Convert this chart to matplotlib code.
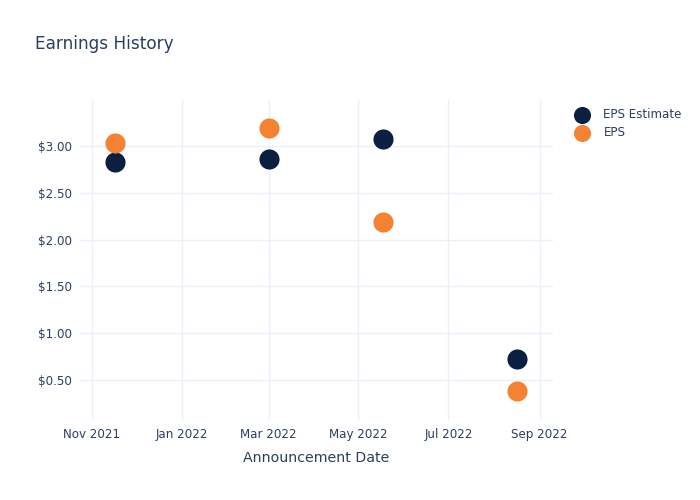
import matplotlib
matplotlib.use("Agg")
import matplotlib.pyplot as plt
from matplotlib.ticker import FuncFormatter
import datetime as dt

dates = ["2021-11-17", "2022-03-01", "2022-05-17 12:00", "2022-08-16 12:00"]
eps_estimate = [2.83, 2.86, 3.07, 0.72]
eps_actual = [3.03, 3.19, 2.19, 0.38]
tick_dates = ["2021-11-01", "2022-01-01", "2022-03-01", "2022-05-01", "2022-07-01", "2022-09-01"]
tick_labels = ["Nov 2021", "Jan 2022", "Mar 2022", "May 2022", "Jul 2022", "Sep 2022"]
y_ticks = [0.5, 1.0, 1.5, 2.0, 2.5, 3.0]

def to_dt(s):
    fmt = "%Y-%m-%d %H:%M" if " " in s else "%Y-%m-%d"
    return dt.datetime.strptime(s, fmt)

xd = [to_dt(d) for d in dates]

text_color = "#2a3f5f"
grid_color = "#ebf0f8"
navy = "#0b1f41"
orange = "#f58233"

fig = plt.figure(figsize=(7, 5), dpi=100)
ax = fig.add_axes([80/700, 80/500, 473/700, 320/500])

ax.scatter(xd, eps_estimate, s=210, color=navy, label="EPS Estimate", zorder=3, linewidths=0)
ax.scatter(xd, eps_actual, s=210, color=orange, label="EPS", zorder=3, linewidths=0)

ax.set_xlim(to_dt("2021-10-24"), to_dt("2022-09-10"))
ax.set_ylim(0.073, 3.49)
ax.set_xticks([to_dt(d) for d in tick_dates])
ax.set_xticklabels(tick_labels)
ax.set_yticks(y_ticks)
ax.yaxis.set_major_formatter(FuncFormatter(lambda v, p: f"${v:.2f}"))

for s in ax.spines.values():
    s.set_visible(False)
ax.grid(True, color=grid_color, linewidth=1)
ax.set_axisbelow(True)
ax.tick_params(axis="both", length=0, labelsize=8.6, colors=text_color, pad=6)

ax.set_xlabel("Announcement Date", fontsize=10.2, color=text_color, labelpad=7)

fig.text(35/700, 1 - 44/500, "Earnings History", fontsize=12.2, color=text_color, va="center", ha="left")

leg = ax.legend(loc="upper left", bbox_to_anchor=(564/700, 1 - 102/500), bbox_transform=fig.transFigure,
                frameon=False, fontsize=8.6, handletextpad=0.8, labelspacing=0.45, borderpad=0, markerscale=0.85,
                labelcolor=text_color)

fig.savefig("out.png", dpi=100)
